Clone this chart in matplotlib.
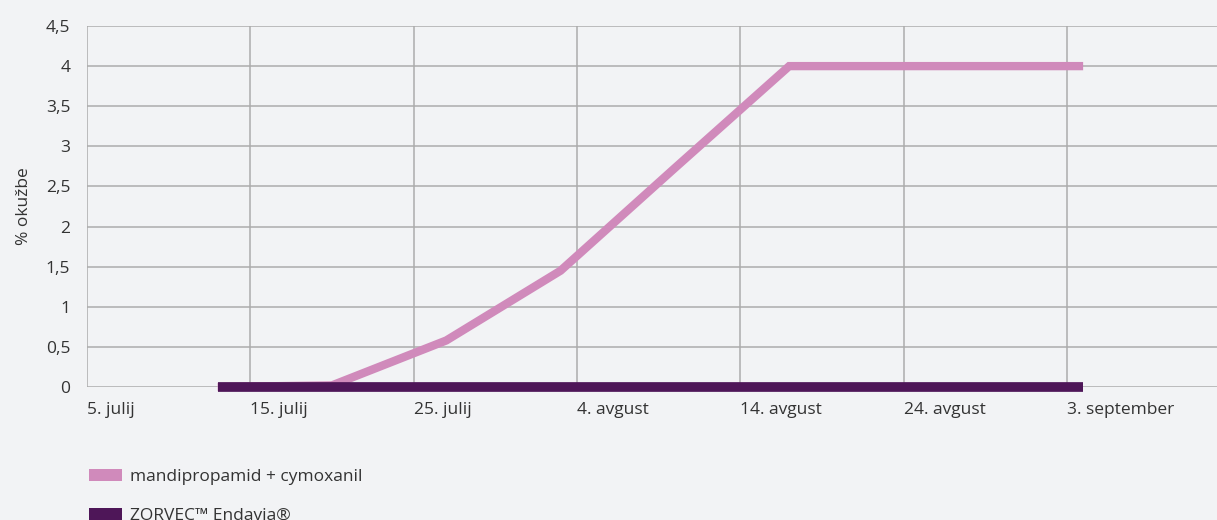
import matplotlib
matplotlib.use("Agg")
import matplotlib.pyplot as plt
import matplotlib.dates as mdates
from matplotlib.patches import Patch
from datetime import date, timedelta

plt.rcParams['font.family'] = ['Open Sans', 'DejaVu Sans']

# Data
pink_dates = [date(2021, 7, 13), date(2021, 7, 20), date(2021, 7, 27), date(2021, 8, 3),
              date(2021, 8, 10), date(2021, 8, 17), date(2021, 9, 4)]
pink_values = [0.0, 0.02, 0.58, 1.45, 2.73, 4.0, 4.0]
dark_dates = [date(2021, 7, 13), date(2021, 9, 4)]
dark_values = [0.0, 0.0]

tick_dates = [date(2021, 7, 5) + timedelta(days=10 * i) for i in range(7)]
tick_labels = ["5. julij", "15. julij", "25. julij", "4. avgust", "14. avgust", "24. avgust", "3. september"]
y_ticks = [0, 0.5, 1, 1.5, 2, 2.5, 3, 3.5, 4, 4.5]
y_labels = ["0", "0,5", "1", "1,5", "2", "2,5", "3", "3,5", "4", "4,5"]
series_names = ["mandipropamid + cymoxanil", "ZORVEC\u2122 Endavia\u00ae"]
pink = "#d08abb"
dark = "#4e1658"
bg = "#f2f3f5"
txt = "#333333"
fs = 12.5

fig = plt.figure(figsize=(12.17, 5.20), dpi=100, facecolor=bg)
ax = fig.add_axes([87 / 1217, 1 - 387 / 520, 1 - 87 / 1217, (387 - 26) / 520])
ax.set_facecolor(bg)

ax.plot(pink_dates, pink_values, color=pink, lw=6, solid_capstyle='butt', solid_joinstyle='miter',
        zorder=3, clip_on=False)
ax.plot(dark_dates, dark_values, color=dark, lw=7, solid_capstyle='butt', zorder=4, clip_on=False)

x0 = mdates.date2num(date(2021, 7, 5))
ax.set_xlim(x0, x0 + (1217 - 87) / 16.33)
ax.set_ylim(0, 4.5)
ax.set_xticks([mdates.date2num(d) for d in tick_dates])
ax.set_xticklabels(tick_labels, ha='left', fontsize=fs, color=txt)
ax.set_yticks(y_ticks)
ax.set_yticklabels(y_labels, fontsize=fs, color=txt)
ax.tick_params(length=0, pad=12)
ax.tick_params(axis='x', pad=11)
ax.grid(True, color="#acacac", lw=1.1, zorder=0)
ax.set_axisbelow(True)
for s in ax.spines.values():
    s.set_visible(False)
ax.set_ylabel("% okužbe", fontsize=fs, color=txt, labelpad=10)

handles = [Patch(facecolor=pink, edgecolor='none'), Patch(facecolor=dark, edgecolor='none')]
fig.legend(handles, series_names, loc='upper left', bbox_to_anchor=(82 / 1217, 1 - 462 / 520),
           frameon=False, fontsize=12.5, handlelength=1.9, handleheight=0.7,
           handletextpad=0.45, labelspacing=1.3, labelcolor=txt, borderaxespad=0)

fig.savefig("out.png", dpi=100, facecolor=bg)
